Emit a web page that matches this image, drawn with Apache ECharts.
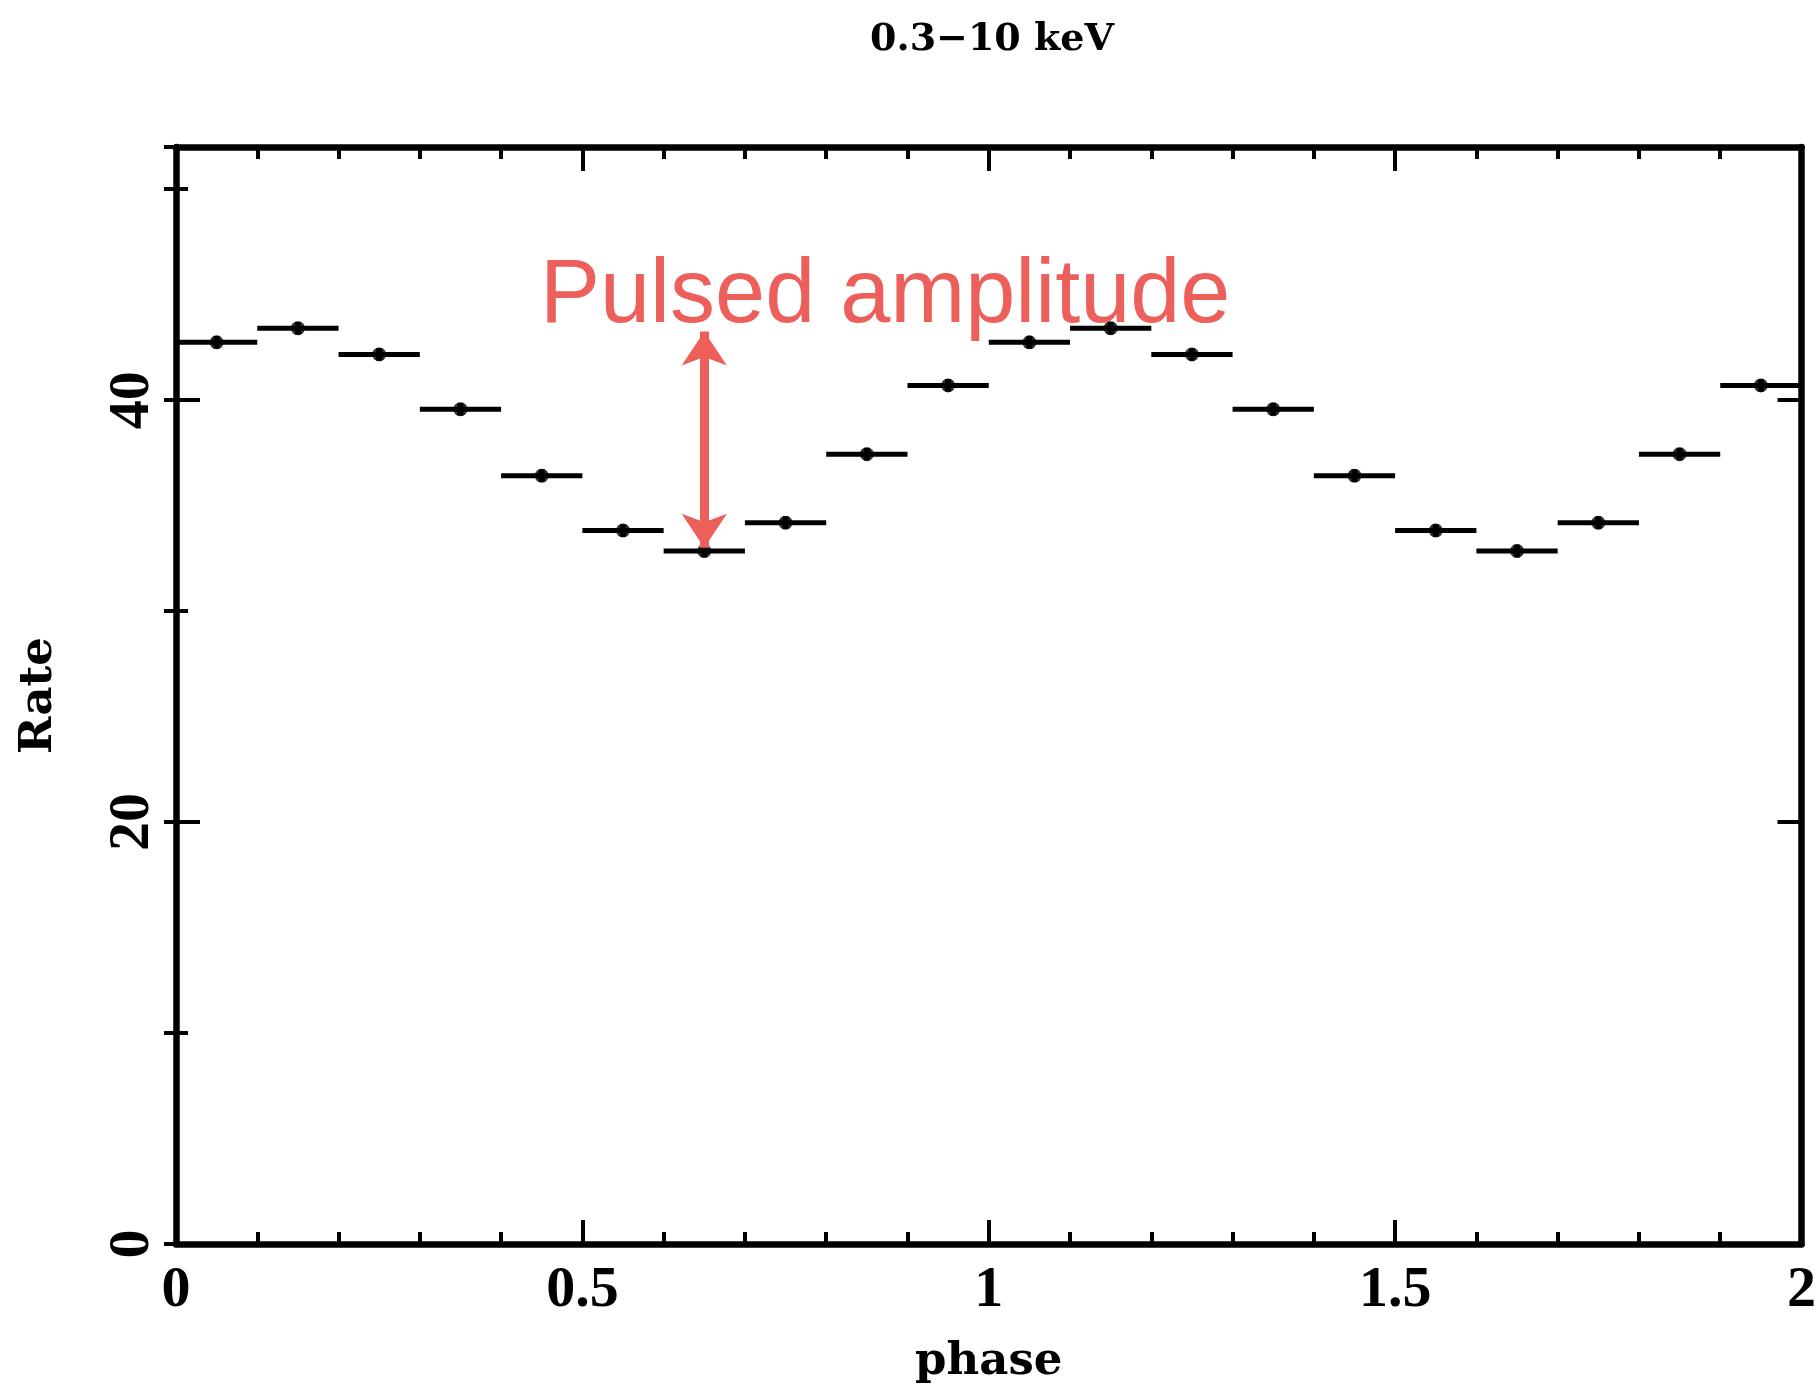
<!DOCTYPE html>
<html><head><meta charset="utf-8">
<script src="https://cdn.jsdelivr.net/npm/echarts@6/dist/echarts.min.js"></script>
<style>html,body{margin:0;padding:0;background:#fff}#c{width:1819px;height:1390px}</style>
</head><body><div id="c"></div><script>
// ---- data ----
const phase = [0.05, 0.15, 0.25, 0.35, 0.45, 0.55, 0.65, 0.75, 0.85, 0.95,
               1.05, 1.15, 1.25, 1.35, 1.45, 1.55, 1.65, 1.75, 1.85, 1.95];
const rate = [42.74, 43.41, 42.17, 39.57, 36.42, 33.82, 32.85, 34.19, 37.44, 40.70,
              42.74, 43.41, 42.17, 39.57, 36.42, 33.82, 32.85, 34.19, 37.44, 40.70];
const phaseHalfWidth = [0.05, 0.05, 0.05, 0.05, 0.05, 0.05, 0.05, 0.05, 0.05, 0.05,
                        0.05, 0.05, 0.05, 0.05, 0.05, 0.05, 0.05, 0.05, 0.05, 0.05];
const rateErr = [0.3, 0.3, 0.3, 0.3, 0.3, 0.3, 0.3, 0.3, 0.3, 0.3,
                 0.3, 0.3, 0.3, 0.3, 0.3, 0.3, 0.3, 0.3, 0.3, 0.3];
const xTickValues = [0, 0.5, 1, 1.5, 2];
const xTickLabels = ['0', '0.5', '1', '1.5', '2'];
const yTickValues = [0, 20, 40];
const yTickLabels = ['0', '20', '40'];
const chartTitle = '0.3\u221210 keV';
const xName = 'phase';
const yName = 'Rate';
const annotationText = 'Pulsed amplitude';
const annotationPhase = [0.65];
const annotationRate = [33.0, 43.25];
const yMax = 52;

// ---- chart ----
const RED = '#EC5F5A';
const tickFont = {fontFamily: 'Liberation Serif', fontWeight: 'bold', fontSize: 58, color: '#000'};
const nameFont = {fontFamily: 'DejaVu Serif', fontWeight: 'bold', fontSize: 45, color: '#000'};
const lineW = 6.5;
const tickW = 4;

function xFmt(v) { const i = xTickValues.indexOf(v); return i >= 0 ? xTickLabels[i] : ''; }
function yFmt(v) { const i = yTickValues.indexOf(v); return i >= 0 ? yTickLabels[i] : ''; }

const chart = echarts.init(document.getElementById('c'), null, {renderer: 'canvas'});

const baseX = {
  type: 'value', min: 0, max: 2, interval: 0.5,
  splitLine: {show: false},
  axisLine: {show: true, onZero: false, lineStyle: {color: '#000', width: lineW}},
  axisTick: {show: true, inside: true, length: 24, lineStyle: {color: '#000', width: tickW}},
  minorTick: {show: true, splitNumber: 5, length: 12, lineStyle: {color: '#000', width: tickW}},
  minorSplitLine: {show: false}
};
const baseYMajor = {
  type: 'value', min: 0, max: yMax, interval: 20,
  splitLine: {show: false},
  axisLine: {show: true, onZero: false, lineStyle: {color: '#000', width: lineW}},
  axisTick: {show: true, inside: true, length: 24, lineStyle: {color: '#000', width: tickW}}
};
const baseYMinor = {
  type: 'value', min: 0, max: yMax, interval: 10,
  splitLine: {show: false},
  axisLine: {show: false},
  axisLabel: {show: false},
  axisTick: {show: true, inside: true, length: 12, lineStyle: {color: '#000', width: tickW}}
};

const option = {
  animation: false,
  backgroundColor: '#fff',
  title: {
    text: chartTitle, left: 992, top: 21, padding: 0, textAlign: 'center',
    textStyle: {fontFamily: 'DejaVu Serif', fontWeight: 'bold', fontSize: 38, color: '#000'}
  },
  grid: {left: 176, right: 14, top: 147, bottom: 136, containLabel: false},
  xAxis: [
    Object.assign({}, baseX, {
      position: 'bottom',
      axisLabel: Object.assign({show: true, margin: 18, formatter: xFmt, showMinLabel: true, showMaxLabel: true}, tickFont),
      name: xName, nameLocation: 'middle', nameGap: 96, nameTextStyle: nameFont
    }),
    Object.assign({}, baseX, {position: 'top', axisLabel: {show: false}})
  ],
  yAxis: [
    Object.assign({}, baseYMajor, {
      position: 'left',
      axisLabel: Object.assign({show: true, rotate: 90, margin: 14, formatter: yFmt, showMaxLabel: false}, tickFont),
      name: yName, nameLocation: 'middle', nameGap: 114, nameRotate: 90, nameTextStyle: nameFont
    }),
    Object.assign({}, baseYMinor, {position: 'left'}),
    Object.assign({}, baseYMajor, {position: 'right', axisLabel: {show: false}}),
    Object.assign({}, baseYMinor, {position: 'right'})
  ],
  series: [
    {
      type: 'custom',
      xAxisIndex: 0, yAxisIndex: 0,
      silent: true,
      data: phase.map((p, i) => [p, rate[i], phaseHalfWidth[i], rateErr[i]]),
      renderItem: function (params, api) {
        const x = api.value(0), y = api.value(1), dx = api.value(2), dy = api.value(3);
        const l = api.coord([x - dx, y]), r = api.coord([x + dx, y]);
        const t = api.coord([x, y + dy]), b = api.coord([x, y - dy]);
        return {
          type: 'group',
          children: [
            {type: 'line', shape: {x1: l[0], y1: l[1], x2: r[0], y2: r[1]}, style: {stroke: '#000', lineWidth: 5}},
            {type: 'line', shape: {x1: t[0], y1: t[1], x2: b[0], y2: b[1]}, style: {stroke: '#000', lineWidth: 6}}
          ]
        };
      }
    },
    {
      type: 'scatter',
      xAxisIndex: 0, yAxisIndex: 0,
      symbol: 'circle', symbolSize: 14,
      itemStyle: {color: '#000'},
      silent: true,
      data: phase.map((p, i) => [p, rate[i]]),
      markLine: {
        silent: true,
        symbol: ['arrow', 'arrow'],
        symbolSize: [34, 34],
        label: {show: false},
        lineStyle: {color: RED, width: 9, type: 'solid', opacity: 1},
        emphasis: {disabled: true},
        data: [[
          {coord: [annotationPhase[0], annotationRate[0]]},
          {coord: [annotationPhase[0], annotationRate[1]]}
        ]]
      }
    }
  ],
  graphic: [
    {
      type: 'text', left: 540, top: 252, silent: true,
      style: {text: annotationText, fontFamily: 'Liberation Sans', fontSize: 90, fill: RED}
    }
  ]
};
chart.setOption(option);
</script></body></html>
